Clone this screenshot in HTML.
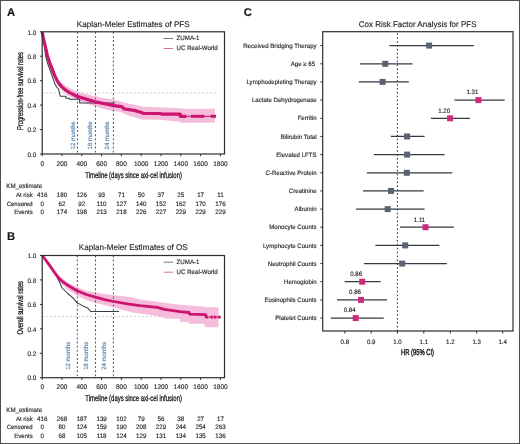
<!DOCTYPE html>
<html><head><meta charset="utf-8"><style>
html,body{margin:0;padding:0;background:#fff;}
body{width:520px;height:444px;overflow:hidden;position:relative;}
#f{position:absolute;left:0;top:0;width:518px;height:442px;border:1px solid #505050;}
svg{position:absolute;left:0;top:0;font-family:"Liberation Sans", sans-serif;will-change:transform;filter:blur(0.3px);}
text{stroke-width:0.14px;text-rendering:geometricPrecision;}
</style></head><body>
<div id="f"></div>
<svg width="520" height="444" viewBox="0 0 520 444">
<line x1="42.2" y1="92.9" x2="218.5" y2="92.9" stroke="#c2c2c2" stroke-width="0.8" stroke-dasharray="2,2"/>
<polygon points="42.2,32.0 47.4,53.0 52.0,66.0 56.6,76.5 60.8,82.0 66.5,86.5 78.0,92.0 89.6,95.0 101.1,97.5 112.7,99.5 120.0,101.3 129.0,103.7 138.8,105.6 142.7,106.8 160.0,107.3 180.0,108.3 181.0,108.8 214.9,108.8 214.9,122.8 181.0,122.8 180.0,121.8 160.0,119.8 142.7,119.5 138.8,118.6 129.0,115.7 120.0,111.8 112.7,111.0 101.1,108.3 89.6,104.5 78.0,100.5 66.5,95.0 60.8,89.0 56.6,83.0 52.0,71.5 47.4,58.0 42.2,32.0" fill="#f5bddb" stroke="none"/>
<line x1="77.5" y1="31.8" x2="77.5" y2="154" stroke="#3f5a86" stroke-width="1.05" stroke-dasharray="1.9,2.2"/>
<line x1="95.5" y1="31.8" x2="95.5" y2="154" stroke="#3f5a86" stroke-width="1.05" stroke-dasharray="1.9,2.2"/>
<line x1="113.4" y1="31.8" x2="113.4" y2="154" stroke="#3f5a86" stroke-width="1.05" stroke-dasharray="1.9,2.2"/>
<text transform="translate(74.80,149.40) rotate(-90) scale(1.0,1.03)" font-size="6" fill="#5580ad" stroke="#5580ad">12 months</text>
<text transform="translate(92.40,149.40) rotate(-90) scale(1.0,1.03)" font-size="6" fill="#5580ad" stroke="#5580ad">18 months</text>
<text transform="translate(108.80,149.40) rotate(-90) scale(1.0,1.03)" font-size="6" fill="#5580ad" stroke="#5580ad">24 months</text>
<polyline points="42.2,32.0 44.0,40.0 45.5,55.7 47.5,63.0 50.2,70.5 52.0,75.5 54.8,83.8 57.0,87.5 58.5,89.0 60.3,96.3 65.9,96.3 65.9,98.2 69.6,98.2 69.6,99.2 79.7,99.2 79.7,102.9 115.0,102.9" fill="none" stroke="#363d48" stroke-width="1.05" stroke-linejoin="round"/>
<polyline points="42.2,32.0 43.0,36.0 44.1,41.5 45.7,48.0 47.4,55.7 49.7,62.5 52.0,68.6 54.3,74.5 56.6,79.7 58.5,83.0 60.5,85.5 62.2,87.1 65.5,90.0 69.6,92.6 76.9,96.3 86.2,99.1 95.4,101.9 104.6,103.7 113.9,105.6 121.5,106.6 124.4,109.0 134.0,110.4 140.8,112.3 143.2,113.3 160.8,113.5 161.5,114.1 180.3,114.1 180.3,116.3 186.5,116.3" fill="none" stroke="#cb1570" stroke-width="3.2" stroke-linejoin="round" stroke-linecap="butt"/>
<polyline points="186.5,116.3 191.0,116.3" fill="none" stroke="#cb1570" stroke-width="1.1" />
<polyline points="191.0,116.3 204.5,116.3" fill="none" stroke="#cb1570" stroke-width="3.0" />
<polyline points="204.5,116.3 210.5,116.3" fill="none" stroke="#cb1570" stroke-width="1.1" />
<polyline points="210.5,116.3 216.0,116.3" fill="none" stroke="#cb1570" stroke-width="3.0" />
<rect x="42.2" y="31.8" width="182.3" height="122.2" fill="none" stroke="#2e2e2e" stroke-width="1.2"/>
<line x1="40.0" y1="154.0" x2="42.2" y2="154.0" stroke="#2e2e2e" stroke-width="1"/>
<text transform="translate(36.30,156.70) scale(1.0,1.03)" font-size="6.4" text-anchor="end" fill="#262626" stroke="#262626">0.0</text>
<line x1="40.0" y1="129.6" x2="42.2" y2="129.6" stroke="#2e2e2e" stroke-width="1"/>
<text transform="translate(36.30,132.26) scale(1.0,1.03)" font-size="6.4" text-anchor="end" fill="#262626" stroke="#262626">0.2</text>
<line x1="40.0" y1="105.1" x2="42.2" y2="105.1" stroke="#2e2e2e" stroke-width="1"/>
<text transform="translate(36.30,107.82) scale(1.0,1.03)" font-size="6.4" text-anchor="end" fill="#262626" stroke="#262626">0.4</text>
<line x1="40.0" y1="80.7" x2="42.2" y2="80.7" stroke="#2e2e2e" stroke-width="1"/>
<text transform="translate(36.30,83.38) scale(1.0,1.03)" font-size="6.4" text-anchor="end" fill="#262626" stroke="#262626">0.6</text>
<line x1="40.0" y1="56.2" x2="42.2" y2="56.2" stroke="#2e2e2e" stroke-width="1"/>
<text transform="translate(36.30,58.94) scale(1.0,1.03)" font-size="6.4" text-anchor="end" fill="#262626" stroke="#262626">0.8</text>
<line x1="40.0" y1="31.8" x2="42.2" y2="31.8" stroke="#2e2e2e" stroke-width="1"/>
<text transform="translate(36.30,34.50) scale(1.0,1.03)" font-size="6.4" text-anchor="end" fill="#262626" stroke="#262626">1.0</text>
<line x1="42.2" y1="154" x2="42.2" y2="156.2" stroke="#2e2e2e" stroke-width="1"/>
<text transform="translate(42.20,165.70) scale(1.0,1.03)" font-size="6.5" text-anchor="middle" fill="#262626" stroke="#262626">0</text>
<line x1="62.0" y1="154" x2="62.0" y2="156.2" stroke="#2e2e2e" stroke-width="1"/>
<text transform="translate(62.00,165.70) scale(1.0,1.03)" font-size="6.5" text-anchor="middle" fill="#262626" stroke="#262626">200</text>
<line x1="81.8" y1="154" x2="81.8" y2="156.2" stroke="#2e2e2e" stroke-width="1"/>
<text transform="translate(81.80,165.70) scale(1.0,1.03)" font-size="6.5" text-anchor="middle" fill="#262626" stroke="#262626">400</text>
<line x1="101.6" y1="154" x2="101.6" y2="156.2" stroke="#2e2e2e" stroke-width="1"/>
<text transform="translate(101.60,165.70) scale(1.0,1.03)" font-size="6.5" text-anchor="middle" fill="#262626" stroke="#262626">600</text>
<line x1="121.4" y1="154" x2="121.4" y2="156.2" stroke="#2e2e2e" stroke-width="1"/>
<text transform="translate(121.40,165.70) scale(1.0,1.03)" font-size="6.5" text-anchor="middle" fill="#262626" stroke="#262626">800</text>
<line x1="141.2" y1="154" x2="141.2" y2="156.2" stroke="#2e2e2e" stroke-width="1"/>
<text transform="translate(141.20,165.70) scale(1.0,1.03)" font-size="6.5" text-anchor="middle" fill="#262626" stroke="#262626">1000</text>
<line x1="161.0" y1="154" x2="161.0" y2="156.2" stroke="#2e2e2e" stroke-width="1"/>
<text transform="translate(161.00,165.70) scale(1.0,1.03)" font-size="6.5" text-anchor="middle" fill="#262626" stroke="#262626">1200</text>
<line x1="180.8" y1="154" x2="180.8" y2="156.2" stroke="#2e2e2e" stroke-width="1"/>
<text transform="translate(180.80,165.70) scale(1.0,1.03)" font-size="6.5" text-anchor="middle" fill="#262626" stroke="#262626">1400</text>
<line x1="200.6" y1="154" x2="200.6" y2="156.2" stroke="#2e2e2e" stroke-width="1"/>
<text transform="translate(200.60,165.70) scale(1.0,1.03)" font-size="6.5" text-anchor="middle" fill="#262626" stroke="#262626">1600</text>
<line x1="220.4" y1="154" x2="220.4" y2="156.2" stroke="#2e2e2e" stroke-width="1"/>
<text transform="translate(220.40,165.70) scale(1.0,1.03)" font-size="6.5" text-anchor="middle" fill="#262626" stroke="#262626">1800</text>
<text transform="translate(133.20,26.70) scale(1.0,1.03)" font-size="8.1" text-anchor="middle" fill="#262626" stroke="#262626">Kaplan-Meier Estimates of PFS</text>
<line x1="163.6" y1="38.5" x2="173.1" y2="38.5" stroke="#50565f" stroke-width="0.8"/>
<line x1="163.6" y1="48.5" x2="173.1" y2="48.5" stroke="#d04a90" stroke-width="0.8"/>
<text transform="translate(176.60,40.30) scale(1.0,1.03)" font-size="6.15" fill="#262626" stroke="#262626">ZUMA-1</text>
<text transform="translate(176.60,50.40) scale(1.0,1.03)" font-size="6.15" fill="#262626" stroke="#262626">UC Real-World</text>
<text transform="translate(22.60,91.10) rotate(-90) scale(0.675,1.0)" font-size="8.5" text-anchor="middle" fill="#1a1a1a" stroke="#1a1a1a" style="stroke-width:0.3px">Progression-free survival rates</text>
<text transform="translate(133.60,177.50) scale(0.697,1.0)" font-size="8.5" text-anchor="middle" fill="#1a1a1a" stroke="#1a1a1a" style="stroke-width:0.3px">Timeline (days since axi-cel infusion)</text>
<text transform="translate(6.30,188.40) scale(1.0,1.03)" font-size="6.15" fill="#262626" stroke="#262626">KM_estimate</text>
<text transform="translate(32.70,197.00) scale(1.0,1.03)" font-size="6.0" text-anchor="end" fill="#262626" stroke="#262626">At risk</text>
<text transform="translate(42.20,197.00) scale(1.0,1.03)" font-size="6.2" text-anchor="middle" fill="#262626" stroke="#262626">416</text>
<text transform="translate(62.00,197.00) scale(1.0,1.03)" font-size="6.2" text-anchor="middle" fill="#262626" stroke="#262626">180</text>
<text transform="translate(81.80,197.00) scale(1.0,1.03)" font-size="6.2" text-anchor="middle" fill="#262626" stroke="#262626">126</text>
<text transform="translate(101.60,197.00) scale(1.0,1.03)" font-size="6.2" text-anchor="middle" fill="#262626" stroke="#262626">93</text>
<text transform="translate(121.40,197.00) scale(1.0,1.03)" font-size="6.2" text-anchor="middle" fill="#262626" stroke="#262626">71</text>
<text transform="translate(141.20,197.00) scale(1.0,1.03)" font-size="6.2" text-anchor="middle" fill="#262626" stroke="#262626">50</text>
<text transform="translate(161.00,197.00) scale(1.0,1.03)" font-size="6.2" text-anchor="middle" fill="#262626" stroke="#262626">37</text>
<text transform="translate(180.80,197.00) scale(1.0,1.03)" font-size="6.2" text-anchor="middle" fill="#262626" stroke="#262626">25</text>
<text transform="translate(200.60,197.00) scale(1.0,1.03)" font-size="6.2" text-anchor="middle" fill="#262626" stroke="#262626">17</text>
<text transform="translate(220.40,197.00) scale(1.0,1.03)" font-size="6.2" text-anchor="middle" fill="#262626" stroke="#262626">11</text>
<text transform="translate(32.70,205.60) scale(1.0,1.03)" font-size="6.0" text-anchor="end" fill="#262626" stroke="#262626">Censored</text>
<text transform="translate(42.20,205.60) scale(1.0,1.03)" font-size="6.2" text-anchor="middle" fill="#262626" stroke="#262626">0</text>
<text transform="translate(62.00,205.60) scale(1.0,1.03)" font-size="6.2" text-anchor="middle" fill="#262626" stroke="#262626">62</text>
<text transform="translate(81.80,205.60) scale(1.0,1.03)" font-size="6.2" text-anchor="middle" fill="#262626" stroke="#262626">92</text>
<text transform="translate(101.60,205.60) scale(1.0,1.03)" font-size="6.2" text-anchor="middle" fill="#262626" stroke="#262626">110</text>
<text transform="translate(121.40,205.60) scale(1.0,1.03)" font-size="6.2" text-anchor="middle" fill="#262626" stroke="#262626">127</text>
<text transform="translate(141.20,205.60) scale(1.0,1.03)" font-size="6.2" text-anchor="middle" fill="#262626" stroke="#262626">140</text>
<text transform="translate(161.00,205.60) scale(1.0,1.03)" font-size="6.2" text-anchor="middle" fill="#262626" stroke="#262626">152</text>
<text transform="translate(180.80,205.60) scale(1.0,1.03)" font-size="6.2" text-anchor="middle" fill="#262626" stroke="#262626">162</text>
<text transform="translate(200.60,205.60) scale(1.0,1.03)" font-size="6.2" text-anchor="middle" fill="#262626" stroke="#262626">170</text>
<text transform="translate(220.40,205.60) scale(1.0,1.03)" font-size="6.2" text-anchor="middle" fill="#262626" stroke="#262626">176</text>
<text transform="translate(32.70,214.00) scale(1.0,1.03)" font-size="6.0" text-anchor="end" fill="#262626" stroke="#262626">Events</text>
<text transform="translate(42.20,214.00) scale(1.0,1.03)" font-size="6.2" text-anchor="middle" fill="#262626" stroke="#262626">0</text>
<text transform="translate(62.00,214.00) scale(1.0,1.03)" font-size="6.2" text-anchor="middle" fill="#262626" stroke="#262626">174</text>
<text transform="translate(81.80,214.00) scale(1.0,1.03)" font-size="6.2" text-anchor="middle" fill="#262626" stroke="#262626">198</text>
<text transform="translate(101.60,214.00) scale(1.0,1.03)" font-size="6.2" text-anchor="middle" fill="#262626" stroke="#262626">213</text>
<text transform="translate(121.40,214.00) scale(1.0,1.03)" font-size="6.2" text-anchor="middle" fill="#262626" stroke="#262626">218</text>
<text transform="translate(141.20,214.00) scale(1.0,1.03)" font-size="6.2" text-anchor="middle" fill="#262626" stroke="#262626">226</text>
<text transform="translate(161.00,214.00) scale(1.0,1.03)" font-size="6.2" text-anchor="middle" fill="#262626" stroke="#262626">227</text>
<text transform="translate(180.80,214.00) scale(1.0,1.03)" font-size="6.2" text-anchor="middle" fill="#262626" stroke="#262626">229</text>
<text transform="translate(200.60,214.00) scale(1.0,1.03)" font-size="6.2" text-anchor="middle" fill="#262626" stroke="#262626">229</text>
<text transform="translate(220.40,214.00) scale(1.0,1.03)" font-size="6.2" text-anchor="middle" fill="#262626" stroke="#262626">229</text>
<line x1="42.2" y1="316.6" x2="218.5" y2="316.6" stroke="#c2c2c2" stroke-width="0.8" stroke-dasharray="2,2"/>
<polygon points="42.2,255.8 49.2,262.5 58.5,275.1 67.7,282.5 77.0,287.1 86.2,290.8 95.4,292.6 113.9,295.3 132.7,297.2 140.0,299.5 166.0,303.0 179.8,304.7 204.0,306.4 205.0,307.3 218.5,307.3 218.5,327.2 205.0,327.2 204.0,323.7 189.0,323.7 188.4,322.0 180.5,322.0 179.8,318.8 166.0,318.5 157.3,316.0 140.0,313.4 132.7,312.4 113.9,307.4 95.4,302.8 86.2,300.0 77.0,295.4 67.7,289.5 58.5,280.5 49.2,267.0 42.2,255.8" fill="#f5bddb" stroke="none"/>
<line x1="77.3" y1="255.5" x2="77.3" y2="377.7" stroke="#3f5a86" stroke-width="1.05" stroke-dasharray="1.9,2.2"/>
<line x1="95.5" y1="255.5" x2="95.5" y2="377.7" stroke="#3f5a86" stroke-width="1.05" stroke-dasharray="1.9,2.2"/>
<line x1="113.4" y1="255.5" x2="113.4" y2="377.7" stroke="#3f5a86" stroke-width="1.05" stroke-dasharray="1.9,2.2"/>
<text transform="translate(70.10,369.80) rotate(-90) scale(1.0,1.03)" font-size="6" fill="#5580ad" stroke="#5580ad">12 months</text>
<text transform="translate(87.70,369.80) rotate(-90) scale(1.0,1.03)" font-size="6" fill="#5580ad" stroke="#5580ad">18 months</text>
<text transform="translate(106.00,369.80) rotate(-90) scale(1.0,1.03)" font-size="6" fill="#5580ad" stroke="#5580ad">24 months</text>
<polyline points="42.2,255.8 46.0,259.5 51.1,266.8 56.6,276.0 59.0,281.0 62.2,288.0 67.7,293.5 73.2,298.2 77.0,302.8 82.5,305.6 88.0,308.3 90.8,311.5 119.0,311.5" fill="none" stroke="#363d48" stroke-width="1.05" stroke-linejoin="round"/>
<polyline points="42.2,255.8 44.0,257.7 49.2,264.9 53.8,271.5 58.5,277.9 63.0,282.0 67.7,285.2 77.0,290.8 86.2,294.5 95.4,297.2 104.6,299.7 113.9,301.5 128.8,304.1 140.0,305.6 157.3,307.3 164.2,309.4 179.8,311.6 189.1,312.5 189.6,314.2 205.5,314.6 206.0,317.1 208.0,317.1" fill="none" stroke="#cb1570" stroke-width="2.8" stroke-linejoin="round" stroke-linecap="butt"/>
<polyline points="208.0,317.1 220.6,317.1" fill="none" stroke="#cb1570" stroke-width="1.1" />
<polyline points="210.6,317.1 212.8,317.1" fill="none" stroke="#cb1570" stroke-width="3.0" />
<polyline points="214.0,317.1 216.2,317.1" fill="none" stroke="#cb1570" stroke-width="3.0" />
<polyline points="218.2,317.1 220.6,317.1" fill="none" stroke="#cb1570" stroke-width="3.0" />
<rect x="42.2" y="255.5" width="182.3" height="122.2" fill="none" stroke="#2e2e2e" stroke-width="1.2"/>
<line x1="40.0" y1="377.7" x2="42.2" y2="377.7" stroke="#2e2e2e" stroke-width="1"/>
<text transform="translate(36.30,380.40) scale(1.0,1.03)" font-size="6.4" text-anchor="end" fill="#262626" stroke="#262626">0.0</text>
<line x1="40.0" y1="353.3" x2="42.2" y2="353.3" stroke="#2e2e2e" stroke-width="1"/>
<text transform="translate(36.30,355.96) scale(1.0,1.03)" font-size="6.4" text-anchor="end" fill="#262626" stroke="#262626">0.2</text>
<line x1="40.0" y1="328.8" x2="42.2" y2="328.8" stroke="#2e2e2e" stroke-width="1"/>
<text transform="translate(36.30,331.52) scale(1.0,1.03)" font-size="6.4" text-anchor="end" fill="#262626" stroke="#262626">0.4</text>
<line x1="40.0" y1="304.4" x2="42.2" y2="304.4" stroke="#2e2e2e" stroke-width="1"/>
<text transform="translate(36.30,307.08) scale(1.0,1.03)" font-size="6.4" text-anchor="end" fill="#262626" stroke="#262626">0.6</text>
<line x1="40.0" y1="279.9" x2="42.2" y2="279.9" stroke="#2e2e2e" stroke-width="1"/>
<text transform="translate(36.30,282.64) scale(1.0,1.03)" font-size="6.4" text-anchor="end" fill="#262626" stroke="#262626">0.8</text>
<line x1="40.0" y1="255.5" x2="42.2" y2="255.5" stroke="#2e2e2e" stroke-width="1"/>
<text transform="translate(36.30,258.20) scale(1.0,1.03)" font-size="6.4" text-anchor="end" fill="#262626" stroke="#262626">1.0</text>
<line x1="42.2" y1="377.7" x2="42.2" y2="379.9" stroke="#2e2e2e" stroke-width="1"/>
<text transform="translate(42.20,389.40) scale(1.0,1.03)" font-size="6.5" text-anchor="middle" fill="#262626" stroke="#262626">0</text>
<line x1="62.0" y1="377.7" x2="62.0" y2="379.9" stroke="#2e2e2e" stroke-width="1"/>
<text transform="translate(62.00,389.40) scale(1.0,1.03)" font-size="6.5" text-anchor="middle" fill="#262626" stroke="#262626">200</text>
<line x1="81.8" y1="377.7" x2="81.8" y2="379.9" stroke="#2e2e2e" stroke-width="1"/>
<text transform="translate(81.80,389.40) scale(1.0,1.03)" font-size="6.5" text-anchor="middle" fill="#262626" stroke="#262626">400</text>
<line x1="101.6" y1="377.7" x2="101.6" y2="379.9" stroke="#2e2e2e" stroke-width="1"/>
<text transform="translate(101.60,389.40) scale(1.0,1.03)" font-size="6.5" text-anchor="middle" fill="#262626" stroke="#262626">600</text>
<line x1="121.4" y1="377.7" x2="121.4" y2="379.9" stroke="#2e2e2e" stroke-width="1"/>
<text transform="translate(121.40,389.40) scale(1.0,1.03)" font-size="6.5" text-anchor="middle" fill="#262626" stroke="#262626">800</text>
<line x1="141.2" y1="377.7" x2="141.2" y2="379.9" stroke="#2e2e2e" stroke-width="1"/>
<text transform="translate(141.20,389.40) scale(1.0,1.03)" font-size="6.5" text-anchor="middle" fill="#262626" stroke="#262626">1000</text>
<line x1="161.0" y1="377.7" x2="161.0" y2="379.9" stroke="#2e2e2e" stroke-width="1"/>
<text transform="translate(161.00,389.40) scale(1.0,1.03)" font-size="6.5" text-anchor="middle" fill="#262626" stroke="#262626">1200</text>
<line x1="180.8" y1="377.7" x2="180.8" y2="379.9" stroke="#2e2e2e" stroke-width="1"/>
<text transform="translate(180.80,389.40) scale(1.0,1.03)" font-size="6.5" text-anchor="middle" fill="#262626" stroke="#262626">1400</text>
<line x1="200.6" y1="377.7" x2="200.6" y2="379.9" stroke="#2e2e2e" stroke-width="1"/>
<text transform="translate(200.60,389.40) scale(1.0,1.03)" font-size="6.5" text-anchor="middle" fill="#262626" stroke="#262626">1600</text>
<line x1="220.4" y1="377.7" x2="220.4" y2="379.9" stroke="#2e2e2e" stroke-width="1"/>
<text transform="translate(220.40,389.40) scale(1.0,1.03)" font-size="6.5" text-anchor="middle" fill="#262626" stroke="#262626">1800</text>
<text transform="translate(133.20,250.40) scale(1.0,1.03)" font-size="8.1" text-anchor="middle" fill="#262626" stroke="#262626">Kaplan-Meier Estimates of OS</text>
<line x1="163.6" y1="262.2" x2="173.1" y2="262.2" stroke="#50565f" stroke-width="0.8"/>
<line x1="163.6" y1="272.2" x2="173.1" y2="272.2" stroke="#d04a90" stroke-width="0.8"/>
<text transform="translate(176.60,264.00) scale(1.0,1.03)" font-size="6.15" fill="#262626" stroke="#262626">ZUMA-1</text>
<text transform="translate(176.60,274.10) scale(1.0,1.03)" font-size="6.15" fill="#262626" stroke="#262626">UC Real-World</text>
<text transform="translate(22.60,307.80) rotate(-90) scale(0.675,1.0)" font-size="8.5" text-anchor="middle" fill="#1a1a1a" stroke="#1a1a1a" style="stroke-width:0.3px">Overall survival rates</text>
<text transform="translate(133.60,401.20) scale(0.697,1.0)" font-size="8.5" text-anchor="middle" fill="#1a1a1a" stroke="#1a1a1a" style="stroke-width:0.3px">Timeline (days since axi-cel infusion)</text>
<text transform="translate(6.30,412.10) scale(1.0,1.03)" font-size="6.15" fill="#262626" stroke="#262626">KM_estimate</text>
<text transform="translate(32.70,420.70) scale(1.0,1.03)" font-size="6.0" text-anchor="end" fill="#262626" stroke="#262626">At risk</text>
<text transform="translate(42.20,420.70) scale(1.0,1.03)" font-size="6.2" text-anchor="middle" fill="#262626" stroke="#262626">416</text>
<text transform="translate(62.00,420.70) scale(1.0,1.03)" font-size="6.2" text-anchor="middle" fill="#262626" stroke="#262626">268</text>
<text transform="translate(81.80,420.70) scale(1.0,1.03)" font-size="6.2" text-anchor="middle" fill="#262626" stroke="#262626">187</text>
<text transform="translate(101.60,420.70) scale(1.0,1.03)" font-size="6.2" text-anchor="middle" fill="#262626" stroke="#262626">139</text>
<text transform="translate(121.40,420.70) scale(1.0,1.03)" font-size="6.2" text-anchor="middle" fill="#262626" stroke="#262626">102</text>
<text transform="translate(141.20,420.70) scale(1.0,1.03)" font-size="6.2" text-anchor="middle" fill="#262626" stroke="#262626">79</text>
<text transform="translate(161.00,420.70) scale(1.0,1.03)" font-size="6.2" text-anchor="middle" fill="#262626" stroke="#262626">56</text>
<text transform="translate(180.80,420.70) scale(1.0,1.03)" font-size="6.2" text-anchor="middle" fill="#262626" stroke="#262626">38</text>
<text transform="translate(200.60,420.70) scale(1.0,1.03)" font-size="6.2" text-anchor="middle" fill="#262626" stroke="#262626">27</text>
<text transform="translate(220.40,420.70) scale(1.0,1.03)" font-size="6.2" text-anchor="middle" fill="#262626" stroke="#262626">17</text>
<text transform="translate(32.70,429.30) scale(1.0,1.03)" font-size="6.0" text-anchor="end" fill="#262626" stroke="#262626">Censored</text>
<text transform="translate(42.20,429.30) scale(1.0,1.03)" font-size="6.2" text-anchor="middle" fill="#262626" stroke="#262626">0</text>
<text transform="translate(62.00,429.30) scale(1.0,1.03)" font-size="6.2" text-anchor="middle" fill="#262626" stroke="#262626">80</text>
<text transform="translate(81.80,429.30) scale(1.0,1.03)" font-size="6.2" text-anchor="middle" fill="#262626" stroke="#262626">124</text>
<text transform="translate(101.60,429.30) scale(1.0,1.03)" font-size="6.2" text-anchor="middle" fill="#262626" stroke="#262626">159</text>
<text transform="translate(121.40,429.30) scale(1.0,1.03)" font-size="6.2" text-anchor="middle" fill="#262626" stroke="#262626">190</text>
<text transform="translate(141.20,429.30) scale(1.0,1.03)" font-size="6.2" text-anchor="middle" fill="#262626" stroke="#262626">208</text>
<text transform="translate(161.00,429.30) scale(1.0,1.03)" font-size="6.2" text-anchor="middle" fill="#262626" stroke="#262626">229</text>
<text transform="translate(180.80,429.30) scale(1.0,1.03)" font-size="6.2" text-anchor="middle" fill="#262626" stroke="#262626">244</text>
<text transform="translate(200.60,429.30) scale(1.0,1.03)" font-size="6.2" text-anchor="middle" fill="#262626" stroke="#262626">254</text>
<text transform="translate(220.40,429.30) scale(1.0,1.03)" font-size="6.2" text-anchor="middle" fill="#262626" stroke="#262626">263</text>
<text transform="translate(32.70,437.70) scale(1.0,1.03)" font-size="6.0" text-anchor="end" fill="#262626" stroke="#262626">Events</text>
<text transform="translate(42.20,437.70) scale(1.0,1.03)" font-size="6.2" text-anchor="middle" fill="#262626" stroke="#262626">0</text>
<text transform="translate(62.00,437.70) scale(1.0,1.03)" font-size="6.2" text-anchor="middle" fill="#262626" stroke="#262626">68</text>
<text transform="translate(81.80,437.70) scale(1.0,1.03)" font-size="6.2" text-anchor="middle" fill="#262626" stroke="#262626">105</text>
<text transform="translate(101.60,437.70) scale(1.0,1.03)" font-size="6.2" text-anchor="middle" fill="#262626" stroke="#262626">118</text>
<text transform="translate(121.40,437.70) scale(1.0,1.03)" font-size="6.2" text-anchor="middle" fill="#262626" stroke="#262626">124</text>
<text transform="translate(141.20,437.70) scale(1.0,1.03)" font-size="6.2" text-anchor="middle" fill="#262626" stroke="#262626">129</text>
<text transform="translate(161.00,437.70) scale(1.0,1.03)" font-size="6.2" text-anchor="middle" fill="#262626" stroke="#262626">131</text>
<text transform="translate(180.80,437.70) scale(1.0,1.03)" font-size="6.2" text-anchor="middle" fill="#262626" stroke="#262626">134</text>
<text transform="translate(200.60,437.70) scale(1.0,1.03)" font-size="6.2" text-anchor="middle" fill="#262626" stroke="#262626">135</text>
<text transform="translate(220.40,437.70) scale(1.0,1.03)" font-size="6.2" text-anchor="middle" fill="#262626" stroke="#262626">136</text>
<text font-weight="bold" transform="translate(7.00,16.30)" font-size="11.2" fill="#111" stroke="#111">A</text>
<text font-weight="bold" transform="translate(7.00,239.90)" font-size="11.2" fill="#111" stroke="#111">B</text>
<text font-weight="bold" transform="translate(243.80,16.00)" font-size="11.2" fill="#111" stroke="#111">C</text>
<line x1="397.4" y1="31.7" x2="397.4" y2="331" stroke="#111" stroke-width="0.9" stroke-dasharray="1.6,2.3" stroke-dashoffset="2.3"/>
<line x1="389.5" y1="45.6" x2="473.8" y2="45.6" stroke="#353a40" stroke-width="1.3"/>
<rect x="426.1" y="42.6" width="6" height="6" fill="#5a6372"/>
<line x1="320.3" y1="45.6" x2="322.7" y2="45.6" stroke="#2e2e2e" stroke-width="1"/>
<text transform="translate(316.60,47.70) scale(1.0,1.03)" font-size="6.1" text-anchor="end" fill="#262626" stroke="#262626">Received Bridging Therapy</text>
<line x1="360" y1="63.8" x2="412.5" y2="63.8" stroke="#353a40" stroke-width="1.3"/>
<rect x="382.3" y="60.8" width="6" height="6" fill="#5a6372"/>
<line x1="320.3" y1="63.8" x2="322.7" y2="63.8" stroke="#2e2e2e" stroke-width="1"/>
<text transform="translate(315.10,65.86) scale(1.0,1.03)" font-size="6.1" text-anchor="end" fill="#262626" stroke="#262626">Age ≥ 65</text>
<line x1="358.8" y1="81.9" x2="408.8" y2="81.9" stroke="#353a40" stroke-width="1.3"/>
<rect x="379.6" y="78.9" width="6" height="6" fill="#5a6372"/>
<line x1="320.3" y1="81.9" x2="322.7" y2="81.9" stroke="#2e2e2e" stroke-width="1"/>
<text transform="translate(316.60,84.03) scale(1.0,1.03)" font-size="6.1" text-anchor="end" fill="#262626" stroke="#262626">Lymphodepleting Therapy</text>
<line x1="454.4" y1="100.1" x2="504.7" y2="100.1" stroke="#353a40" stroke-width="1.3"/>
<rect x="475.4" y="97.1" width="6" height="6" fill="#cf2a80"/>
<text transform="translate(472.40,94.39) scale(1.0,1.03)" font-size="6.1" text-anchor="middle" fill="#262626" stroke="#262626">1.31</text>
<line x1="320.3" y1="100.1" x2="322.7" y2="100.1" stroke="#2e2e2e" stroke-width="1"/>
<text transform="translate(316.60,102.19) scale(1.0,1.03)" font-size="6.1" text-anchor="end" fill="#262626" stroke="#262626">Lactate Dehydrogenase</text>
<line x1="430.9" y1="118.3" x2="470" y2="118.3" stroke="#353a40" stroke-width="1.3"/>
<rect x="447.1" y="115.3" width="6" height="6" fill="#cf2a80"/>
<text transform="translate(444.10,112.56) scale(1.0,1.03)" font-size="6.1" text-anchor="middle" fill="#262626" stroke="#262626">1.20</text>
<line x1="320.3" y1="118.3" x2="322.7" y2="118.3" stroke="#2e2e2e" stroke-width="1"/>
<text transform="translate(316.60,120.36) scale(1.0,1.03)" font-size="6.1" text-anchor="end" fill="#262626" stroke="#262626">Ferritin</text>
<line x1="390.8" y1="136.4" x2="424.6" y2="136.4" stroke="#353a40" stroke-width="1.3"/>
<rect x="404.1" y="133.4" width="6" height="6" fill="#5a6372"/>
<line x1="320.3" y1="136.4" x2="322.7" y2="136.4" stroke="#2e2e2e" stroke-width="1"/>
<text transform="translate(316.60,138.52) scale(1.0,1.03)" font-size="6.1" text-anchor="end" fill="#262626" stroke="#262626">Bilirubin Total</text>
<line x1="373.8" y1="154.6" x2="444.6" y2="154.6" stroke="#353a40" stroke-width="1.3"/>
<rect x="404.1" y="151.6" width="6" height="6" fill="#5a6372"/>
<line x1="320.3" y1="154.6" x2="322.7" y2="154.6" stroke="#2e2e2e" stroke-width="1"/>
<text transform="translate(316.60,156.69) scale(1.0,1.03)" font-size="6.1" text-anchor="end" fill="#262626" stroke="#262626">Elevated LFTS</text>
<line x1="366.8" y1="172.8" x2="452.3" y2="172.8" stroke="#353a40" stroke-width="1.3"/>
<rect x="403.8" y="169.8" width="6" height="6" fill="#5a6372"/>
<line x1="320.3" y1="172.8" x2="322.7" y2="172.8" stroke="#2e2e2e" stroke-width="1"/>
<text transform="translate(316.60,174.85) scale(1.0,1.03)" font-size="6.1" text-anchor="end" fill="#262626" stroke="#262626">C-Reactive Protein</text>
<line x1="363" y1="190.9" x2="423.7" y2="190.9" stroke="#353a40" stroke-width="1.3"/>
<rect x="388.0" y="187.9" width="6" height="6" fill="#5a6372"/>
<line x1="320.3" y1="190.9" x2="322.7" y2="190.9" stroke="#2e2e2e" stroke-width="1"/>
<text transform="translate(316.60,193.02) scale(1.0,1.03)" font-size="6.1" text-anchor="end" fill="#262626" stroke="#262626">Creatinine</text>
<line x1="356" y1="209.1" x2="424.6" y2="209.1" stroke="#353a40" stroke-width="1.3"/>
<rect x="384.7" y="206.1" width="6" height="6" fill="#5a6372"/>
<line x1="320.3" y1="209.1" x2="322.7" y2="209.1" stroke="#2e2e2e" stroke-width="1"/>
<text transform="translate(316.60,211.18) scale(1.0,1.03)" font-size="6.1" text-anchor="end" fill="#262626" stroke="#262626">Albumin</text>
<line x1="400" y1="227.2" x2="453.8" y2="227.2" stroke="#353a40" stroke-width="1.3"/>
<rect x="422.5" y="224.2" width="6" height="6" fill="#cf2a80"/>
<text transform="translate(419.50,221.55) scale(1.0,1.03)" font-size="6.1" text-anchor="middle" fill="#262626" stroke="#262626">1.11</text>
<line x1="320.3" y1="227.2" x2="322.7" y2="227.2" stroke="#2e2e2e" stroke-width="1"/>
<text transform="translate(316.60,229.35) scale(1.0,1.03)" font-size="6.1" text-anchor="end" fill="#262626" stroke="#262626">Monocyte Counts</text>
<line x1="375.4" y1="245.4" x2="439.4" y2="245.4" stroke="#353a40" stroke-width="1.3"/>
<rect x="402.2" y="242.4" width="6" height="6" fill="#5a6372"/>
<line x1="320.3" y1="245.4" x2="322.7" y2="245.4" stroke="#2e2e2e" stroke-width="1"/>
<text transform="translate(316.60,247.51) scale(1.0,1.03)" font-size="6.1" text-anchor="end" fill="#262626" stroke="#262626">Lymphocyte Counts</text>
<line x1="364" y1="263.6" x2="446.8" y2="263.6" stroke="#353a40" stroke-width="1.3"/>
<rect x="399.2" y="260.6" width="6" height="6" fill="#5a6372"/>
<line x1="320.3" y1="263.6" x2="322.7" y2="263.6" stroke="#2e2e2e" stroke-width="1"/>
<text transform="translate(316.60,265.68) scale(1.0,1.03)" font-size="6.1" text-anchor="end" fill="#262626" stroke="#262626">Neutrophil Counts</text>
<line x1="344.6" y1="281.7" x2="380.6" y2="281.7" stroke="#353a40" stroke-width="1.3"/>
<rect x="359.2" y="278.7" width="6" height="6" fill="#cf2a80"/>
<text transform="translate(356.20,276.05) scale(1.0,1.03)" font-size="6.1" text-anchor="middle" fill="#262626" stroke="#262626">0.86</text>
<line x1="320.3" y1="281.7" x2="322.7" y2="281.7" stroke="#2e2e2e" stroke-width="1"/>
<text transform="translate(316.60,283.85) scale(1.0,1.03)" font-size="6.1" text-anchor="end" fill="#262626" stroke="#262626">Hemoglobin</text>
<line x1="337" y1="299.9" x2="387" y2="299.9" stroke="#353a40" stroke-width="1.3"/>
<rect x="358.0" y="296.9" width="6" height="6" fill="#cf2a80"/>
<text transform="translate(355.00,294.21) scale(1.0,1.03)" font-size="6.1" text-anchor="middle" fill="#262626" stroke="#262626">0.86</text>
<line x1="320.3" y1="299.9" x2="322.7" y2="299.9" stroke="#2e2e2e" stroke-width="1"/>
<text transform="translate(316.60,302.01) scale(1.0,1.03)" font-size="6.1" text-anchor="end" fill="#262626" stroke="#262626">Eosinophils Counts</text>
<line x1="330.8" y1="318.1" x2="383.7" y2="318.1" stroke="#353a40" stroke-width="1.3"/>
<rect x="352.7" y="315.1" width="6" height="6" fill="#cf2a80"/>
<text transform="translate(349.70,312.38) scale(1.0,1.03)" font-size="6.1" text-anchor="middle" fill="#262626" stroke="#262626">0.84</text>
<line x1="320.3" y1="318.1" x2="322.7" y2="318.1" stroke="#2e2e2e" stroke-width="1"/>
<text transform="translate(316.60,320.18) scale(1.0,1.03)" font-size="6.1" text-anchor="end" fill="#262626" stroke="#262626">Platelet Counts</text>
<rect x="322.7" y="31.7" width="190.3" height="299.3" fill="none" stroke="#2e2e2e" stroke-width="1.2"/>
<line x1="344.8" y1="331" x2="344.8" y2="333.5" stroke="#2e2e2e" stroke-width="1"/>
<text transform="translate(344.80,343.50) scale(1.0,1.03)" font-size="6.1" text-anchor="middle" fill="#262626" stroke="#262626">0.8</text>
<line x1="371.2" y1="331" x2="371.2" y2="333.5" stroke="#2e2e2e" stroke-width="1"/>
<text transform="translate(371.20,343.50) scale(1.0,1.03)" font-size="6.1" text-anchor="middle" fill="#262626" stroke="#262626">0.9</text>
<line x1="397.4" y1="331" x2="397.4" y2="333.5" stroke="#2e2e2e" stroke-width="1"/>
<text transform="translate(397.40,343.50) scale(1.0,1.03)" font-size="6.1" text-anchor="middle" fill="#262626" stroke="#262626">1.0</text>
<line x1="423.8" y1="331" x2="423.8" y2="333.5" stroke="#2e2e2e" stroke-width="1"/>
<text transform="translate(423.80,343.50) scale(1.0,1.03)" font-size="6.1" text-anchor="middle" fill="#262626" stroke="#262626">1.1</text>
<line x1="450.3" y1="331" x2="450.3" y2="333.5" stroke="#2e2e2e" stroke-width="1"/>
<text transform="translate(450.30,343.50) scale(1.0,1.03)" font-size="6.1" text-anchor="middle" fill="#262626" stroke="#262626">1.2</text>
<line x1="476.7" y1="331" x2="476.7" y2="333.5" stroke="#2e2e2e" stroke-width="1"/>
<text transform="translate(476.70,343.50) scale(1.0,1.03)" font-size="6.1" text-anchor="middle" fill="#262626" stroke="#262626">1.3</text>
<line x1="502.7" y1="331" x2="502.7" y2="333.5" stroke="#2e2e2e" stroke-width="1"/>
<text transform="translate(502.70,343.50) scale(1.0,1.03)" font-size="6.1" text-anchor="middle" fill="#262626" stroke="#262626">1.4</text>
<text transform="translate(417.60,26.90) scale(1.0,1.03)" font-size="8" text-anchor="middle" fill="#262626" stroke="#262626">Cox Risk Factor Analysis for PFS</text>
<text transform="translate(417.50,354.60) scale(0.685,1.0)" font-size="8.5" text-anchor="middle" fill="#1a1a1a" stroke="#1a1a1a" style="stroke-width:0.45px">HR (95% CI)</text>
</svg>
</body></html>
